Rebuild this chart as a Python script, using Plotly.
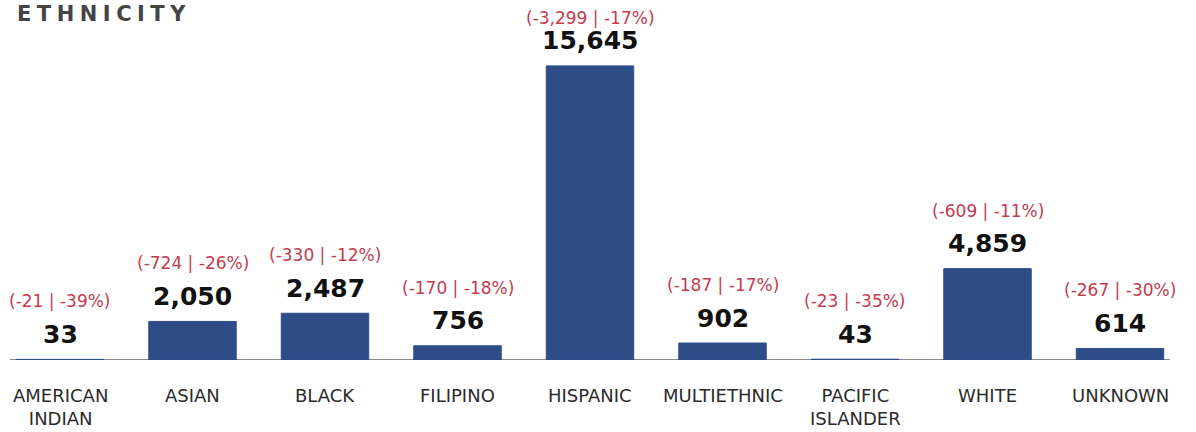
import plotly.graph_objects as go

categories = ["AMERICAN<br>INDIAN", "ASIAN", "BLACK", "FILIPINO", "HISPANIC",
              "MULTIETHNIC", "PACIFIC<br>ISLANDER", "WHITE", "UNKNOWN"]
values = [33, 2050, 2487, 756, 15645, 902, 43, 4859, 614]
changes = [-21, -724, -330, -170, -3299, -187, -23, -609, -267]
pcts = [-39, -26, -12, -18, -17, -17, -35, -11, -30]

BAR = "#2e4d87"
RED = "#c43b4e"
FONT = "DejaVu Sans"

PLOT_H = 360
YMAX = 19150

xs = list(range(len(categories)))

fig = go.Figure()
fig.add_trace(go.Bar(
    x=xs, y=values, width=0.66,
    marker=dict(color=BAR, line=dict(color=BAR, width=1)),
    hoverinfo="skip",
))

ann = []
for x, v, c, p, cat in zip(xs, values, changes, pcts, categories):
    top_px = PLOT_H - v * PLOT_H / YMAX
    red_shift = min(58, top_px - 18)
    ann.append(dict(x=x, y=v, xref="x", yref="y", text=f"<b>{v:,}</b>",
                    showarrow=False, yanchor="middle", yshift=25,
                    font=dict(family=FONT, size=25, color="#111111")))
    ann.append(dict(x=x, y=v, xref="x", yref="y", text=f"({c:,} | {p}%)",
                    showarrow=False, yanchor="middle", yshift=red_shift,
                    font=dict(family=FONT, size=17, color=RED)))
    ann.append(dict(x=x, y=0, xref="x", yref="paper", text=cat,
                    showarrow=False, yanchor="top", yshift=-23,
                    font=dict(family=FONT, size=18, color="#2b2b2b")))

ann.append(dict(x=0, y=1, xref="paper", yref="paper", xanchor="left",
                yanchor="top", yshift=0, xshift=15, showarrow=False,
                text='<span style="letter-spacing:5.5px"><b>ETHNICITY</b></span>',
                font=dict(family=FONT, size=21, color="#444444")))

fig.update_layout(
    width=1196, height=432,
    margin=dict(l=0, r=0, t=0, b=432 - PLOT_H),
    paper_bgcolor="white", plot_bgcolor="white",
    showlegend=False,
    annotations=ann,
    xaxis=dict(range=[-0.4528, 8.5736], visible=False, fixedrange=True),
    yaxis=dict(range=[0, YMAX], visible=False, fixedrange=True),
    shapes=[dict(type="line", xref="x", yref="y", x0=-0.377, x1=8.377,
                 y0=0, y1=0, line=dict(color="#8a8a8a", width=2),
                 layer="below")],
)

fig.write_html("out.html", config={"displayModeBar": False},
               post_script="document.body.style.margin='0';document.body.style.overflow='hidden';")
